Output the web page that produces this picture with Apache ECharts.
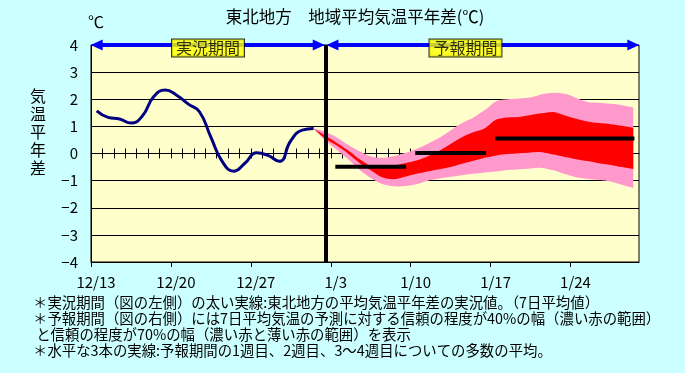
<!DOCTYPE html>
<html><head><meta charset="utf-8">
<script src="https://cdn.jsdelivr.net/npm/echarts@6/dist/echarts.min.js"></script>
<style>html,body{margin:0;padding:0;background:#ccffff;}#c{width:685px;height:373px;}</style>
</head><body><div id="c"></div><script>
const FONT = '"Noto Sans CJK JP", "Noto Sans CJK SC", sans-serif';

// x positions are days counted from 12/13
const tickDays = [0, 7, 14, 21, 28, 35, 42];
const tickLabels = ['12/13', '12/20', '12/27', '1/3', '1/10', '1/17', '1/24'];

// observed 7-day mean anomaly
const obsDays = [0.5, 1.5, 2.5, 3.5, 4.5, 5.5, 6.5, 7.5, 8.5, 9.5, 10.5, 11.5, 12.5, 13.5, 14.5, 15.5, 16.5, 17.5, 18.5, 19.5];
const obsValues = [1.57, 1.33, 1.27, 1.12, 1.38, 2.10, 2.34, 2.15, 1.83, 1.54, 0.60, -0.30, -0.65, -0.35, 0.03, -0.07, -0.29, 0.47, 0.86, 0.92];

// forecast ranges
const fcDays = [19.5, 20.5, 21.5, 22.5, 23.5, 24.5, 25.5, 26.5, 27.5, 28.5, 29.5, 30.5, 31.5, 32.5, 33.5, 34.5, 35.5, 36.5, 37.5, 38.5, 39.5, 40.5, 41.5, 42.5, 43.5, 44.5, 45.5, 46.5, 47.5];
const upper70 = [0.92, 0.80, 0.60, 0.32, 0.08, -0.10, -0.16, -0.10, 0.02, 0.17, 0.36, 0.58, 0.85, 1.12, 1.33, 1.60, 1.93, 2.00, 2.03, 2.06, 2.18, 2.24, 2.20, 2.05, 1.90, 1.87, 1.83, 1.78, 1.70];
const lower70 = [0.92, 0.48, 0.15, -0.20, -0.59, -0.90, -1.12, -1.21, -1.20, -1.13, -1.00, -0.92, -0.86, -0.80, -0.75, -0.70, -0.66, -0.61, -0.58, -0.55, -0.53, -0.62, -0.76, -0.88, -0.94, -0.98, -1.03, -1.15, -1.27];
const upper40 = [0.92, 0.66, 0.40, 0.12, -0.20, -0.45, -0.49, -0.44, -0.36, -0.26, -0.10, 0.10, 0.35, 0.60, 0.78, 0.93, 1.25, 1.33, 1.35, 1.42, 1.48, 1.53, 1.40, 1.28, 1.18, 1.12, 1.08, 1.02, 0.95];
const lower40 = [0.92, 0.55, 0.30, 0.00, -0.34, -0.62, -0.88, -0.95, -0.86, -0.75, -0.66, -0.58, -0.50, -0.38, -0.27, -0.16, -0.07, -0.02, 0.01, 0.04, 0.05, -0.04, -0.13, -0.21, -0.28, -0.36, -0.42, -0.50, -0.57];

// weekly means (week1, week2, weeks3-4)
const weekStart = [21.4, 28.4, 35.4];
const weekEnd = [27.6, 34.6, 47.6];
const weekMean = [-0.49, 0.02, 0.55];

// period annotations
const splitDay = 20.55;
const periodNames = ['実況期間', '予報期間'];
const periodStart = [0.5, 21.15];
const periodEnd = [19.95, 47.5];
const periodLabelDay = [10.25, 32.8];
const periodY = 4;

const footnotes = [
  '＊実況期間（図の左側）の太い実線:東北地方の平均気温平年差の実況値。（7日平均値）',
  '＊予報期間（図の右側）には7日平均気温の予測に対する信頼の程度が40%の幅（濃い赤の範囲）',
  ' と信頼の程度が70%の幅（濃い赤と薄い赤の範囲）を表示',
  '＊水平な3本の実線:予報期間の1週目、2週目、3～4週目についての多数の平均。'
];

const zip = (xs, ys) => xs.map((x, i) => [x, ys[i]]);
const dayTicks = [];
for (let d = 1; d < 48; d++) dayTicks.push(d);

const chart = echarts.init(document.getElementById('c'));

const band = (up, lo, color) => ({
  type: 'custom', data: zip(fcDays, up), silent: true, z: 2,
  renderItem: (params, api) => {
    if (params.dataIndex !== 0) return null;
    const n = fcDays.length;
    const u = fcDays.map((d, i) => api.coord([d, up[i]]));
    const l = fcDays.map((d, i) => api.coord([d, lo[i]]));
    const pts = [];
    for (let i = 0; i < n; i++) pts.push(u[i]);
    pts.push(u[n - 1].slice());
    pts.push(l[n - 1]);
    for (let i = n - 1; i >= 0; i--) pts.push(l[i].slice ? l[i].slice() : l[i]);
    return { type: 'polygon', shape: { points: pts, smooth: 0.3 }, style: { fill: color, stroke: null } };
  }
});

const series = [
  band(upper70, lower70, '#ff99cc'),
  band(upper40, lower40, '#ff0000'),
  {
    type: 'line', data: zip(obsDays, obsValues), smooth: true, symbol: 'none',
    lineStyle: { color: '#000080', width: 3 }, z: 5, silent: true,
    markLine: {
      silent: true, animation: false, symbol: ['none', 'none'],
      label: { show: false },
      data: [
        { xAxis: splitDay, lineStyle: { color: '#000', width: 4, type: 'solid' } },
        ...periodStart.map((s, i) => [
          { coord: [s, periodY], symbol: 'triangle', symbolSize: [11, 12], itemStyle: { color: '#0000ff' }, lineStyle: { color: '#0000ff', width: 4, type: 'solid' } },
          { coord: [periodEnd[i], periodY], symbol: 'triangle', symbolSize: [11, 12], itemStyle: { color: '#0000ff' } }
        ])
      ]
    }
  },
  ...weekStart.map((s, i) => ({
    type: 'line', data: [[s, weekMean[i]], [weekEnd[i], weekMean[i]]], symbol: 'none',
    lineStyle: { color: '#000', width: 4, cap: 'butt' }, z: 6, silent: true
  })),
  {
    type: 'scatter', data: zip(periodLabelDay, [periodY, periodY]), symbolSize: 0, z: 10, silent: true,
    label: {
      show: true, position: 'inside', offset: [0, 3],
      formatter: p => periodNames[p.dataIndex],
      fontFamily: FONT, fontSize: 16, color: '#000',
      backgroundColor: '#ffff00', borderColor: '#000', borderWidth: 1, padding: [1, 4, 0, 4]
    }
  }
];

chart.setOption({
  backgroundColor: '#ccffff',
  animation: false,
  textStyle: { fontFamily: FONT },
  grid: { left: 91, right: 46, top: 45, bottom: 111, show: true, backgroundColor: '#ffffcc', borderColor: '#000', borderWidth: 1 },
  xAxis: [
    {
      type: 'value', min: 0, max: 48, position: 'bottom',
      axisLine: { show: true, onZero: false, lineStyle: { color: '#000', width: 1 } },
      axisTick: { show: true, length: 5, customValues: tickDays, lineStyle: { color: '#000', width: 1 } },
      axisLabel: { customValues: tickDays, formatter: v => tickLabels[tickDays.indexOf(v)] || '', fontFamily: FONT, fontSize: 15, color: '#000', margin: 13, padding: [0, 0, 0, 10] },
      splitLine: { show: false }
    },
    {
      type: 'value', min: 0, max: 48, position: 'bottom',
      axisLine: { show: true, onZero: true, onZeroAxisIndex: 0, lineStyle: { color: '#000', width: 1 } },
      axisTick: { show: true, inside: true, length: 5, customValues: dayTicks, lineStyle: { color: '#000', width: 1 } },
      axisLabel: { show: false }, splitLine: { show: false }
    },
    {
      type: 'value', min: 0, max: 48, position: 'bottom',
      axisLine: { show: false, onZero: true, onZeroAxisIndex: 0 },
      axisTick: { show: true, inside: false, length: 5, customValues: dayTicks, lineStyle: { color: '#000', width: 1 } },
      axisLabel: { show: false }, splitLine: { show: false }
    }
  ],
  yAxis: {
    type: 'value', min: -4, max: 4, interval: 1,
    axisLine: { show: true, lineStyle: { color: '#000' } },
    axisTick: { show: false },
    splitLine: { show: true, lineStyle: { color: '#000', width: 1 } },
    axisLabel: { color: '#000', fontFamily: FONT, fontSize: 15, margin: 13, formatter: v => String(v).replace('-', '−') }
  },
  graphic: [
    { type: 'text', x: 355, y: 17, style: { text: '東北地方　地域平均気温平年差(℃)', fontFamily: FONT, fontSize: 16.5, fill: '#000', align: 'center', verticalAlign: 'middle' } },
    { type: 'text', x: 96, y: 22, style: { text: '℃', fontFamily: FONT, fontSize: 16, fill: '#000', align: 'center', verticalAlign: 'middle' } },
    { type: 'text', x: 38, y: 87, style: { text: '気\n温\n平\n年\n差', fontFamily: FONT, fontSize: 16, lineHeight: 18, fill: '#000', align: 'center', verticalAlign: 'top' } },
    { type: 'text', x: 33, y: 295, style: { text: footnotes.join('\n'), fontFamily: FONT, fontSize: 14.4, lineHeight: 16, fill: '#000', align: 'left', verticalAlign: 'top' } }
  ],
  series: series
});
</script></body></html>
